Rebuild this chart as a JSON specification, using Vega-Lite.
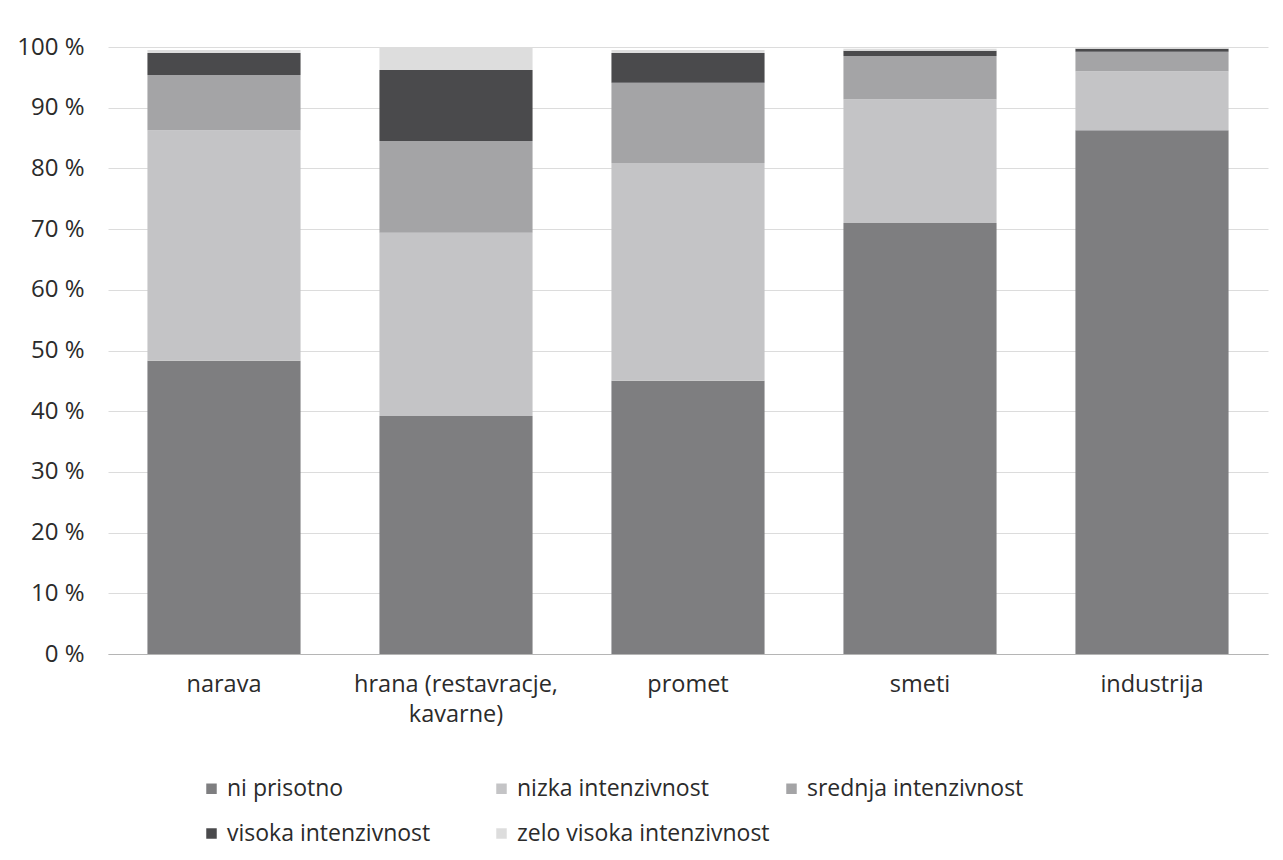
{
  "$schema": "https://vega.github.io/schema/vega-lite/v6.json",
  "autosize": "none",
  "width": 1160,
  "height": 607,
  "padding": {"left": 108, "top": 47, "right": 15, "bottom": 206},
  "background": "white",
  "data": {
    "values": [
      {"vir": "narava", "raven": "ni prisotno", "rang": 1, "delez": 48.3},
      {"vir": "narava", "raven": "nizka intenzivnost", "rang": 2, "delez": 38.0},
      {"vir": "narava", "raven": "srednja intenzivnost", "rang": 3, "delez": 9.1},
      {"vir": "narava", "raven": "visoka intenzivnost", "rang": 4, "delez": 3.6},
      {"vir": "narava", "raven": "zelo visoka intenzivnost", "rang": 5, "delez": 0.5},
      {"vir": "hrana (restavracje, kavarne)", "raven": "ni prisotno", "rang": 1, "delez": 39.2},
      {"vir": "hrana (restavracje, kavarne)", "raven": "nizka intenzivnost", "rang": 2, "delez": 30.2},
      {"vir": "hrana (restavracje, kavarne)", "raven": "srednja intenzivnost", "rang": 3, "delez": 15.1},
      {"vir": "hrana (restavracje, kavarne)", "raven": "visoka intenzivnost", "rang": 4, "delez": 11.7},
      {"vir": "hrana (restavracje, kavarne)", "raven": "zelo visoka intenzivnost", "rang": 5, "delez": 3.8},
      {"vir": "promet", "raven": "ni prisotno", "rang": 1, "delez": 45.0},
      {"vir": "promet", "raven": "nizka intenzivnost", "rang": 2, "delez": 35.9},
      {"vir": "promet", "raven": "srednja intenzivnost", "rang": 3, "delez": 13.2},
      {"vir": "promet", "raven": "visoka intenzivnost", "rang": 4, "delez": 4.9},
      {"vir": "promet", "raven": "zelo visoka intenzivnost", "rang": 5, "delez": 0.5},
      {"vir": "smeti", "raven": "ni prisotno", "rang": 1, "delez": 71.0},
      {"vir": "smeti", "raven": "nizka intenzivnost", "rang": 2, "delez": 20.4},
      {"vir": "smeti", "raven": "srednja intenzivnost", "rang": 3, "delez": 7.1},
      {"vir": "smeti", "raven": "visoka intenzivnost", "rang": 4, "delez": 0.9},
      {"vir": "smeti", "raven": "zelo visoka intenzivnost", "rang": 5, "delez": 0.3},
      {"vir": "industrija", "raven": "ni prisotno", "rang": 1, "delez": 86.3},
      {"vir": "industrija", "raven": "nizka intenzivnost", "rang": 2, "delez": 9.7},
      {"vir": "industrija", "raven": "srednja intenzivnost", "rang": 3, "delez": 3.2},
      {"vir": "industrija", "raven": "visoka intenzivnost", "rang": 4, "delez": 0.5},
      {"vir": "industrija", "raven": "zelo visoka intenzivnost", "rang": 5, "delez": 0.2}
    ]
  },
  "mark": {"type": "bar"},
  "encoding": {
    "x": {
      "field": "vir",
      "type": "nominal",
      "sort": ["narava", "hrana (restavracje, kavarne)", "promet", "smeti", "industrija"],
      "scale": {"paddingInner": 0.34, "paddingOuter": 0.17},
      "axis": {
        "title": null,
        "labelAngle": 0,
        "ticks": false,
        "domainColor": "#b5b5b5",
        "labelFont": "Open Sans",
        "labelFontSize": 23.5,
        "labelColor": "#2b2b2b",
        "labelPadding": 18,
        "labelLineHeight": 30,
        "labelLimit": 400,
        "labelExpr": "datum.label == 'hrana (restavracje, kavarne)' ? ['hrana (restavracje,', 'kavarne)'] : datum.label"
      }
    },
    "y": {
      "field": "delez",
      "type": "quantitative",
      "stack": "zero",
      "scale": {"domain": [0, 100], "nice": false},
      "axis": {
        "title": null,
        "values": [0, 10, 20, 30, 40, 50, 60, 70, 80, 90, 100],
        "labelExpr": "datum.value + ' %'",
        "domain": false,
        "ticks": false,
        "gridColor": "#dcdcdc",
        "labelFont": "Open Sans",
        "labelFontSize": 24,
        "labelColor": "#2b2b2b",
        "labelPadding": 24
      }
    },
    "color": {
      "field": "raven",
      "type": "nominal",
      "sort": ["ni prisotno", "nizka intenzivnost", "srednja intenzivnost", "visoka intenzivnost", "zelo visoka intenzivnost"],
      "scale": {
        "domain": ["ni prisotno", "nizka intenzivnost", "srednja intenzivnost", "visoka intenzivnost", "zelo visoka intenzivnost"],
        "range": ["#7e7e80", "#c4c4c6", "#a4a4a6", "#4a4a4c", "#dddddd"]
      },
      "legend": {
        "title": null,
        "orient": "none",
        "legendX": 92,
        "legendY": 730,
        "direction": "horizontal",
        "columns": 3,
        "gridAlign": "all",
        "columnPadding": 10,
        "rowPadding": 21,
        "symbolType": "square",
        "symbolSize": 110,
        "symbolStrokeWidth": 0,
        "labelFont": "Open Sans",
        "labelFontSize": 23,
        "labelColor": "#2b2b2b",
        "labelOffset": 4,
        "labelLimit": 400
      }
    },
    "order": {"field": "rang", "type": "quantitative"}
  },
  "config": {
    "view": {"stroke": null},
    "axis": {"gridWidth": 1}
  }
}
